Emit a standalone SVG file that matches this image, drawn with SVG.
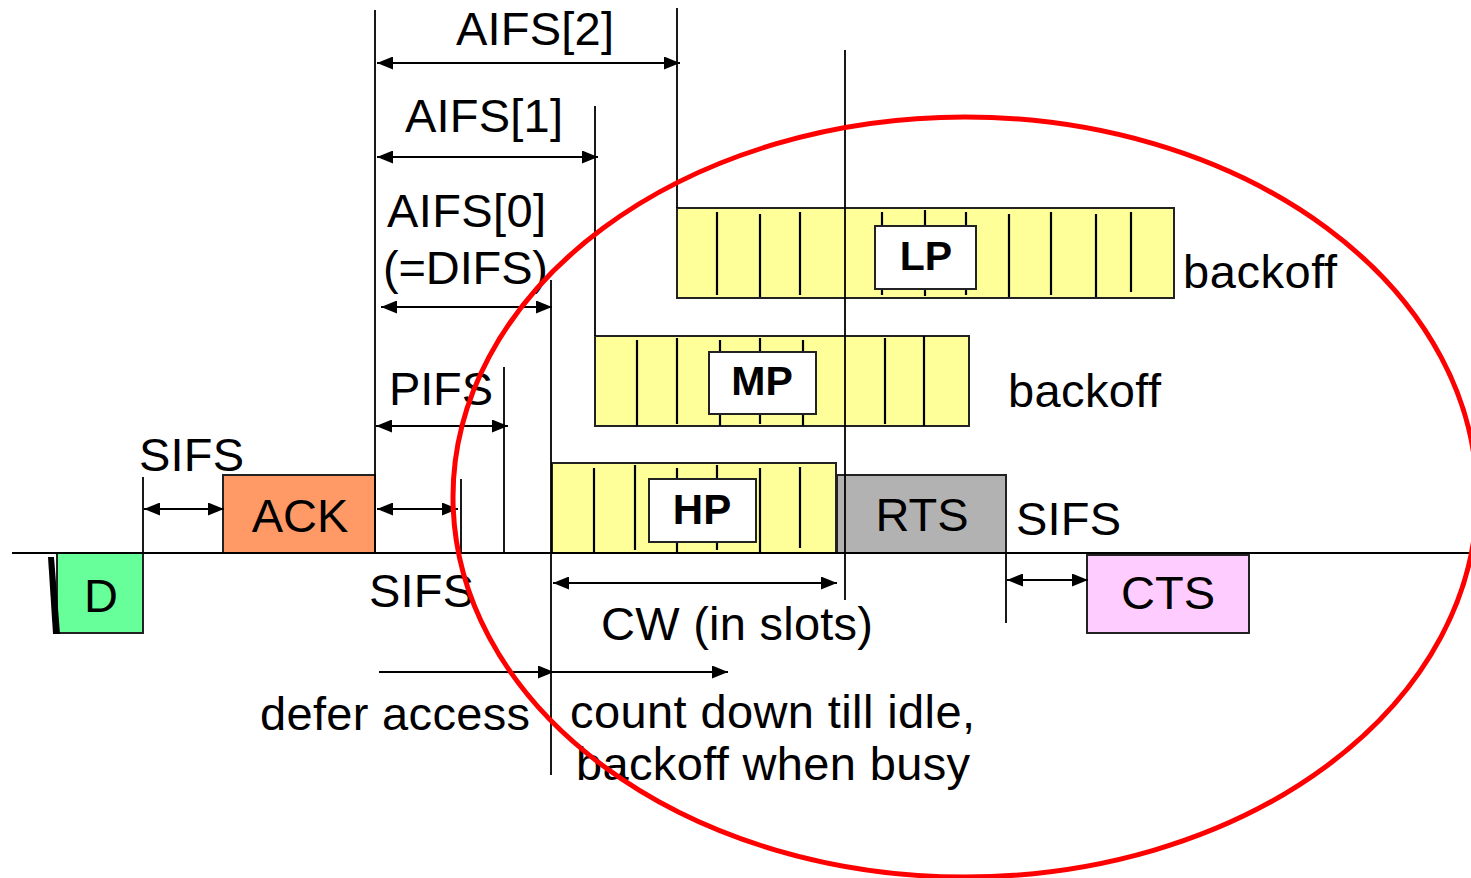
<svg xmlns="http://www.w3.org/2000/svg" width="1471" height="878" viewBox="0 0 1471 878">
<style>
text{font-family:"Liberation Sans",Arial,sans-serif;font-size:47px;fill:#000}
.b{font-weight:bold;font-size:41px}
.m{text-anchor:middle}
.box{stroke:#222;stroke-width:2}
.ln{stroke:#000;stroke-width:1.8;fill:none}
.dv{stroke:#000;stroke-width:2.2}
.ar{stroke:#000;stroke-width:2;fill:none}
</style>
<defs>
<marker id="ah" viewBox="0 0 16 13" refX="16" refY="6.5" markerWidth="16" markerHeight="13" markerUnits="userSpaceOnUse" orient="auto-start-reverse"><path d="M0,0 L16,6.5 L0,13 z" fill="#000"/></marker>
</defs>
<rect width="1471" height="878" fill="#fff"/>

<g id="lp">
<rect class="box" x="677" y="208" width="497" height="90" fill="#FFFF99"/>
<path class="dv" d="M717,212V295M760,214V297M800,212V295M882,212V295M925,210V296M966,212V295M1009,214V297M1051,212V295M1096,214V297M1131,212V292"/>
<rect class="box" x="875" y="226" width="101" height="63" fill="#fff"/>
<text class="b m" x="926" y="270">LP</text>
<text x="1183" y="288" textLength="154">backoff</text>
</g>

<g id="mp">
<rect class="box" x="595" y="336" width="374" height="90" fill="#FFFF99"/>
<path class="dv" d="M637,340V426M677,338V424M720,340V426M760,338V424M803,340V426M885,338V424M924,336V426"/>
<rect class="box" x="709" y="352" width="107" height="62" fill="#fff"/>
<text class="b m" x="762" y="395">MP</text>
<text x="1008" y="407" textLength="153">backoff</text>
</g>

<g id="hp">
<rect class="box" x="552" y="463" width="284" height="90" fill="#FFFF99"/>
<path class="dv" d="M594,468V552M635,465V550M677,468V552M717,465V550M760,468V552M800,467V548"/>
<rect class="box" x="649" y="479" width="107" height="63" fill="#fff"/>
<text class="b m" x="702" y="524" style="font-size:42px">HP</text>
</g>

<g id="d">
<rect class="box" x="57" y="553" width="86" height="80" fill="#66FF99"/>
<polygon points="48,557 54,557 60,634 53,634" fill="#000"/>
<text class="m" x="101" y="612">D</text>
</g>

<g id="ack">
<rect class="box" x="223" y="475" width="152" height="78" fill="#FF9966"/>
<text class="m" x="300" y="532">ACK</text>
</g>

<g id="rts">
<rect class="box" x="837" y="475" width="169" height="78" fill="#B2B2B2"/>
<text class="m" x="922" y="531">RTS</text>
</g>

<g id="cts">
<rect class="box" x="1087" y="555" width="162" height="78" fill="#FFCCFF"/>
<text class="m" x="1168" y="609">CTS</text>
</g>

<g id="connectors">
<line class="ln" x1="12" y1="553" x2="1471" y2="553" stroke-width="2"/>
<path class="ln" d="M143,477V553M375,10V553M677,8V208M595,106V336M551,280V775M504,367V553M461,479V553M845,50V600M1006,553V623"/>
<path class="ar" d="M377,63H680" marker-start="url(#ah)" marker-end="url(#ah)"/>
<path class="ar" d="M377,157H598" marker-start="url(#ah)" marker-end="url(#ah)"/>
<path class="ar" d="M381,307H552" marker-start="url(#ah)" marker-end="url(#ah)"/>
<path class="ar" d="M376,426H508" marker-start="url(#ah)" marker-end="url(#ah)"/>
<path class="ar" d="M144,509H224" marker-start="url(#ah)" marker-end="url(#ah)"/>
<path class="ar" d="M377,509H458" marker-start="url(#ah)" marker-end="url(#ah)"/>
<path class="ar" d="M553,583H837" marker-start="url(#ah)" marker-end="url(#ah)"/>
<path class="ar" d="M1007,580H1088" marker-start="url(#ah)" marker-end="url(#ah)"/>
<path class="ar" d="M379,672H554" marker-end="url(#ah)"/>
<path class="ar" d="M553,672H728" marker-end="url(#ah)"/>
</g>

<g id="labels">
<text x="456" y="45" textLength="158">AIFS[2]</text>
<text x="405" y="132" textLength="158">AIFS[1]</text>
<text x="387" y="227" textLength="159">AIFS[0]</text>
<text x="383" y="284" textLength="165">(=DIFS)</text>
<text x="389" y="405" textLength="104">PIFS</text>
<text x="139" y="471" textLength="105">SIFS</text>
<text x="369" y="607" textLength="105">SIFS</text>
<text x="1016" y="535" textLength="105">SIFS</text>
<text x="601" y="640" textLength="272">CW (in slots)</text>
<text x="260" y="730" textLength="270">defer access</text>
<text x="570" y="728" textLength="405">count down till idle,</text>
<text x="576" y="780" textLength="394">backoff when busy</text>
</g>

<ellipse id="highlight" cx="965" cy="497" rx="512" ry="380" fill="none" stroke="#FF0000" stroke-width="5"/>
</svg>
